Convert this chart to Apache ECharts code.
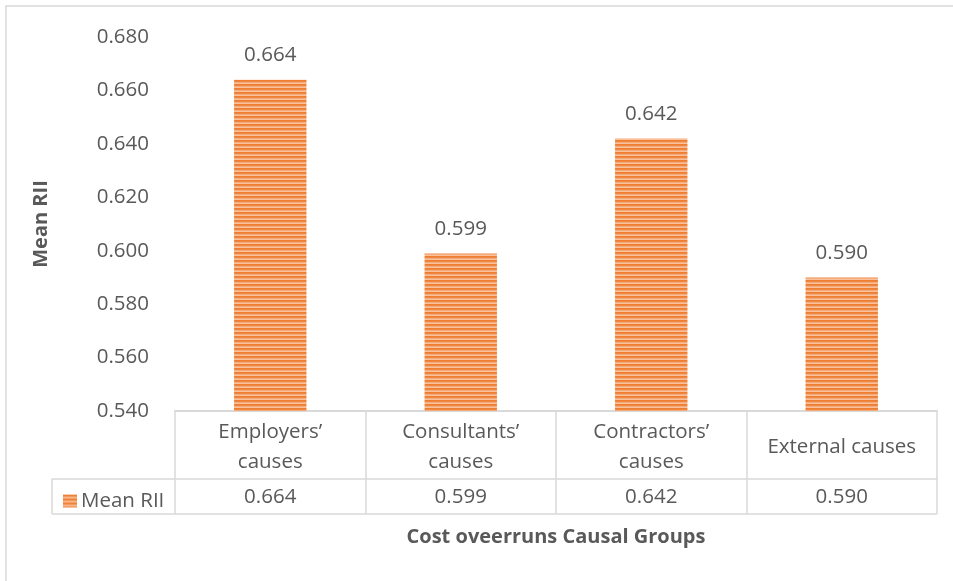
<!DOCTYPE html>
<html>
<head>
<meta charset="utf-8">
<script src="https://cdn.jsdelivr.net/npm/echarts@6/dist/echarts.min.js"></script>
<style>
  html, body { margin: 0; padding: 0; background: #ffffff; }
  #chart { width: 953px; height: 581px; }
</style>
</head>
<body>
<div id="chart"></div>
<script>
// Cost overrun causal groups and their mean Relative Importance Index
const categories = ['Employers’\ncauses', 'Consultants’\ncauses', 'Contractors’\ncauses', 'External causes'];
const meanRII = [0.664, 0.599, 0.642, 0.590];
const seriesName = 'Mean RII';
const yTicks = { min: 0.54, max: 0.68, step: 0.02 };

const W = 953, H = 581;
const grid = { left: 175, right: 16, top: 37, bottom: 170 };
const axisY = H - grid.bottom;          // category axis line
const headerRow = 68;                   // height of the category-name row
const valueRow = 35;                    // height of the value row
const legendLeft = 52;                  // left edge of the series-name cell
const lineColor = '#d9d9d9';
const textColor = '#595959';
const fontFamily = '"Open Sans", "Noto Sans", sans-serif';
const fontSize = 20.5;

// Horizontal-stripe fill used for the bars and the legend key
function stripePattern() {
  const c = document.createElement('canvas');
  c.width = 4; c.height = 4;
  const ctx = c.getContext('2d');
  const rows = ['#ed7d31', '#ef8741', '#f5ab79', '#f9c29c'];
  rows.forEach((col, i) => { ctx.fillStyle = col; ctx.fillRect(0, i, 4, 1); });
  return { image: c, repeat: 'repeat' };
}
const barFill = stripePattern();

const chart = echarts.init(document.getElementById('chart'), null, { renderer: 'canvas' });

const tableRight = W - grid.right;
const rowLine = axisY + headerRow;
const tableBottom = rowLine + valueRow;

chart.setOption({
  animation: false,
  backgroundColor: '#ffffff',
  grid: grid,
  legend: {
    data: [seriesName],
    left: legendLeft + 6,
    top: rowLine + (valueRow - 22) / 2,
    icon: 'rect',
    itemWidth: 14,
    itemHeight: 13,
    itemGap: 4,
    textStyle: { color: textColor, fontSize: fontSize, fontFamily: fontFamily, padding: [0, 0, 0, -1] }
  },
  xAxis: [
    {
      type: 'category',
      data: categories,
      position: 'bottom',
      axisLine: { show: true, lineStyle: { color: lineColor, width: 2 } },
      axisTick: { show: true, length: headerRow + valueRow, lineStyle: { color: lineColor, width: 1.5 } },
      axisLabel: {
        interval: 0,
        margin: headerRow / 2 + 2,
        verticalAlign: 'middle',
        lineHeight: 30,
        color: textColor,
        fontSize: fontSize,
        fontFamily: fontFamily
      },
      name: 'Cost oveerruns Causal Groups',
      nameLocation: 'middle',
      nameGap: 116,
      nameTextStyle: { color: textColor, fontSize: 20, fontWeight: 'bold', fontFamily: fontFamily }
    },
    {
      type: 'category',
      data: meanRII.map(v => v.toFixed(3)),
      position: 'bottom',
      axisLine: { show: false },
      axisTick: { show: false },
      axisLabel: {
        interval: 0,
        margin: headerRow + valueRow / 2 + 1,
        verticalAlign: 'middle',
        color: textColor,
        fontSize: fontSize,
        fontFamily: fontFamily
      }
    }
  ],
  yAxis: {
    type: 'value',
    min: yTicks.min,
    max: yTicks.max,
    interval: yTicks.step,
    axisLine: { show: false },
    axisTick: { show: false },
    splitLine: { show: false },
    axisLabel: {
      margin: 26,
      color: textColor,
      fontSize: fontSize,
      fontFamily: fontFamily,
      formatter: v => v.toFixed(3)
    },
    name: 'Mean RII',
    nameLocation: 'middle',
    nameGap: 124,
    nameTextStyle: { color: textColor, fontSize: 20, fontWeight: 'bold', fontFamily: fontFamily }
  },
  series: [{
    name: seriesName,
    type: 'bar',
    xAxisIndex: 0,
    data: meanRII,
    barWidth: '38%',
    itemStyle: { color: barFill },
    label: {
      show: true,
      position: 'top',
      distance: 14,
      color: textColor,
      fontSize: fontSize,
      fontFamily: fontFamily,
      formatter: p => p.value.toFixed(3)
    }
  }],
  graphic: [
    // outer chart-area frame
    { type: 'rect', shape: { x: 6, y: 6, width: W + 20, height: H + 20 },
      style: { fill: 'none', stroke: lineColor, lineWidth: 1.5 }, silent: true },
    // data table rules
    { type: 'line', shape: { x1: legendLeft, y1: rowLine, x2: tableRight, y2: rowLine },
      style: { stroke: lineColor, lineWidth: 1.5 }, silent: true },
    { type: 'line', shape: { x1: legendLeft, y1: tableBottom, x2: tableRight, y2: tableBottom },
      style: { stroke: lineColor, lineWidth: 1.5 }, silent: true },
    { type: 'line', shape: { x1: legendLeft, y1: rowLine, x2: legendLeft, y2: tableBottom },
      style: { stroke: lineColor, lineWidth: 1.5 }, silent: true }
  ]
});
</script>
</body>
</html>
